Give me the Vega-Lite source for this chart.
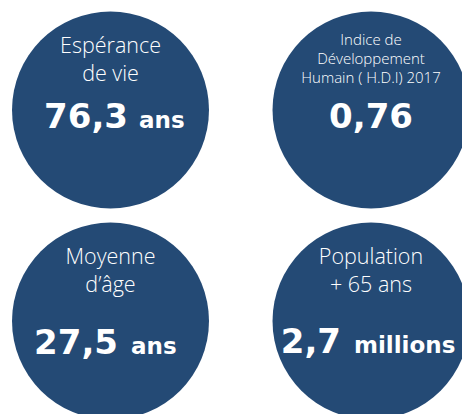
{
  "$schema": "https://vega.github.io/schema/vega-lite/v6.json",
  "width": 462,
  "height": 414,
  "autosize": {"type": "none"},
  "padding": 0,
  "background": "white",
  "config": {"view": {"stroke": null}},
  "data": {
    "values": [
      {"indicator": "esperance", "label": ["Espérance", "de vie"], "value": "76,3", "unit": "ans", "col": 0, "row": 0},
      {"indicator": "idh", "label": ["Indice de", "Développement", "Humain ( H.D.I) 2017"], "value": "0,76", "unit": "", "col": 1, "row": 0},
      {"indicator": "age", "label": ["Moyenne", "d’âge"], "value": "27,5", "unit": "ans", "col": 0, "row": 1},
      {"indicator": "pop65", "label": ["Population", "+ 65 ans"], "value": "2,7", "unit": "millions", "col": 1, "row": 1}
    ]
  },
  "encoding": {
    "x": {"field": "col", "type": "quantitative", "scale": {"domain": [-0.4242, 1.3493], "nice": false, "zero": false}, "axis": null},
    "y": {"field": "row", "type": "quantitative", "scale": {"domain": [-0.5213, 1.4408], "reverse": true, "nice": false, "zero": false}, "axis": null}
  },
  "layer": [
    {
      "mark": {"type": "point", "shape": "circle", "filled": true, "size": 38800, "color": "#244a75", "opacity": 1, "strokeWidth": 0}
    },
    {
      "transform": [{"filter": "datum.indicator != 'idh'"}],
      "mark": {"type": "text", "font": "Open Sans", "fontWeight": 300, "fontSize": 21.5, "lineHeight": 28, "baseline": "alphabetic", "align": "center", "dy": -57, "color": "white"},
      "encoding": {"text": {"field": "label", "type": "nominal"}}
    },
    {
      "transform": [{"filter": "datum.indicator == 'idh'"}],
      "mark": {"type": "text", "font": "Open Sans", "fontWeight": 300, "fontSize": 15, "lineHeight": 19, "baseline": "alphabetic", "align": "center", "dy": -65, "color": "white"},
      "encoding": {"text": {"field": "label", "type": "nominal"}}
    },
    {
      "transform": [{"filter": "datum.indicator == 'esperance'"}],
      "mark": {"type": "text", "font": "DejaVu Sans", "fontWeight": "bold", "fontSize": 34, "baseline": "alphabetic", "align": "right", "dx": 17.5, "dy": 18, "color": "white"},
      "encoding": {"text": {"field": "value", "type": "nominal"}}
    },
    {
      "transform": [{"filter": "datum.indicator == 'esperance'"}],
      "mark": {"type": "text", "font": "DejaVu Sans", "fontWeight": "bold", "fontSize": 23, "baseline": "alphabetic", "align": "left", "dx": 28.5, "dy": 18, "color": "white"},
      "encoding": {"text": {"field": "unit", "type": "nominal"}}
    },
    {
      "transform": [{"filter": "datum.indicator == 'idh'"}],
      "mark": {"type": "text", "font": "DejaVu Sans", "fontWeight": "bold", "fontSize": 34, "baseline": "alphabetic", "align": "center", "dx": 0, "dy": 18, "color": "white"},
      "encoding": {"text": {"field": "value", "type": "nominal"}}
    },
    {
      "transform": [{"filter": "datum.indicator == 'age'"}],
      "mark": {"type": "text", "font": "DejaVu Sans", "fontWeight": "bold", "fontSize": 34, "baseline": "alphabetic", "align": "right", "dx": 7.5, "dy": 33, "color": "white"},
      "encoding": {"text": {"field": "value", "type": "nominal"}}
    },
    {
      "transform": [{"filter": "datum.indicator == 'age'"}],
      "mark": {"type": "text", "font": "DejaVu Sans", "fontWeight": "bold", "fontSize": 23, "baseline": "alphabetic", "align": "left", "dx": 20.5, "dy": 33, "color": "white"},
      "encoding": {"text": {"field": "unit", "type": "nominal"}}
    },
    {
      "transform": [{"filter": "datum.indicator == 'pop65'"}],
      "mark": {"type": "text", "font": "DejaVu Sans", "fontWeight": "bold", "fontSize": 34, "baseline": "alphabetic", "align": "right", "dx": -30, "dy": 32, "color": "white"},
      "encoding": {"text": {"field": "value", "type": "nominal"}}
    },
    {
      "transform": [{"filter": "datum.indicator == 'pop65'"}],
      "mark": {"type": "text", "font": "DejaVu Sans", "fontWeight": "bold", "fontSize": 23, "baseline": "alphabetic", "align": "left", "dx": -17, "dy": 32, "color": "white"},
      "encoding": {"text": {"field": "unit", "type": "nominal"}}
    }
  ]
}
